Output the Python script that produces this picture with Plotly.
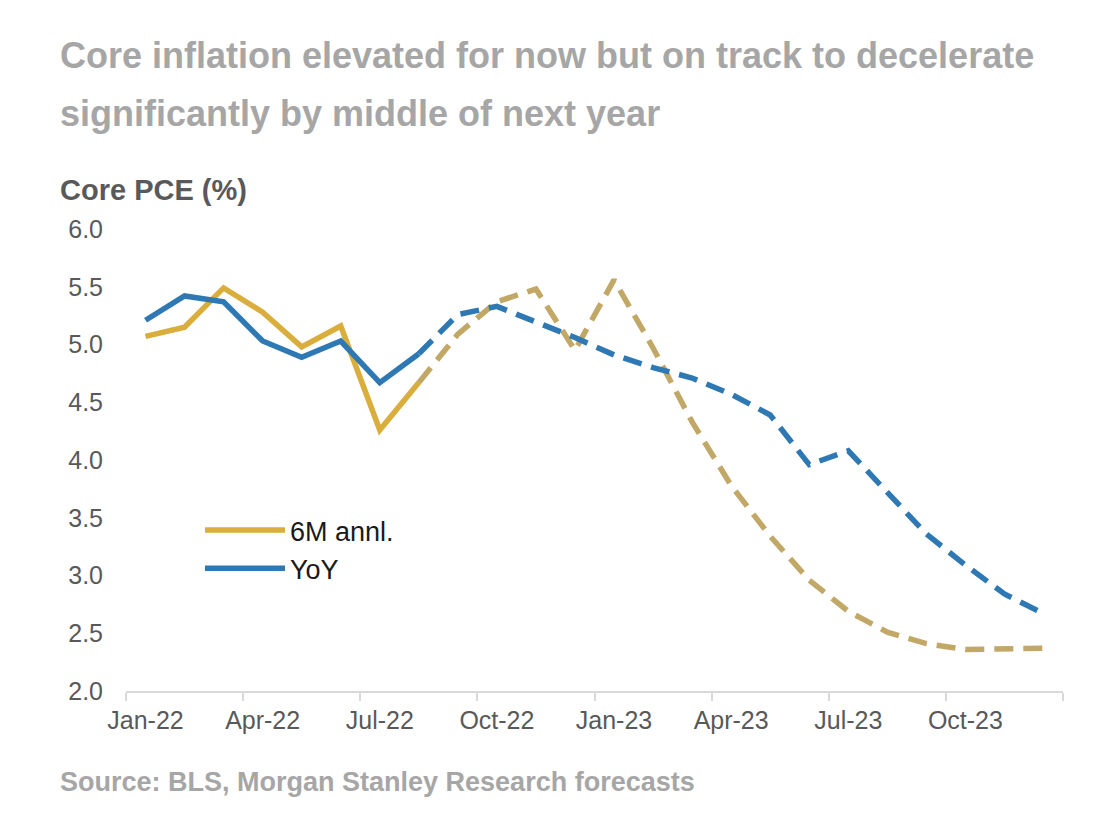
import plotly.graph_objects as go

# ---------------- data ----------------
months = ["Jan-22", "Feb-22", "Mar-22", "Apr-22", "May-22", "Jun-22", "Jul-22", "Aug-22",
          "Sep-22", "Oct-22", "Nov-22", "Dec-22", "Jan-23", "Feb-23", "Mar-23", "Apr-23",
          "May-23", "Jun-23", "Jul-23", "Aug-23", "Sep-23", "Oct-23", "Nov-23", "Dec-23"]

six_m_annl = [5.07, 5.15, 5.49, 5.28, 4.98, 5.16, 4.26, 4.67,
              5.09, 5.37, 5.48, 4.95, 5.56, 4.97, 4.33, 3.78,
              3.34, 2.96, 2.69, 2.51, 2.41, 2.36, 2.36, 2.37]

yoy = [5.21, 5.42, 5.37, 5.03, 4.89, 5.03, 4.67, 4.92,
       5.26, 5.33, 5.20, 5.06, 4.91, 4.80, 4.71, 4.57,
       4.39, 3.96, 4.08, 3.72, 3.36, 3.09, 2.84, 2.67]

last_actual = 7  # Aug-22 is the last actual point; forecasts after

y_ticks = [2.0, 2.5, 3.0, 3.5, 4.0, 4.5, 5.0, 5.5, 6.0]

title_line1 = "Core inflation elevated for now but on track to decelerate"
title_line2 = "significantly by middle of next year"
y_title = "Core PCE (%)"
source = "Source: BLS, Morgan Stanley Research forecasts"

# ---------------- styles ----------------
GOLD = "#D9AE3C"
GOLD_FC = "#C2A866"
BLUE = "#2E79B3"
FONT = "Liberation Sans, Arial, sans-serif"
LW = 5.5

# page has an 8px body margin, so the figure is drawn 8px smaller
W, H = 1099, 823
ML, MR, MT, MB = 118, 44, 221, 140
PW, PH = W - ML - MR, H - MT - MB
OFF = 8  # page offset


def px_x(x):
    return (x - OFF - ML) / PW


def px_y(y):
    return (H - MB - (y - OFF)) / PH


fig = go.Figure()

fig.add_trace(go.Scatter(x=months[:last_actual + 1], y=six_m_annl[:last_actual + 1],
                         mode="lines", name="6M annl.",
                         line=dict(color=GOLD, width=LW)))
fig.add_trace(go.Scatter(x=months[:last_actual + 1], y=yoy[:last_actual + 1],
                         mode="lines", name="YoY",
                         line=dict(color=BLUE, width=LW)))
fig.add_trace(go.Scatter(x=months[last_actual:], y=six_m_annl[last_actual:],
                         mode="lines", showlegend=False,
                         line=dict(color=GOLD_FC, width=LW, dash="19px,10px")))
fig.add_trace(go.Scatter(x=months[last_actual:], y=yoy[last_actual:],
                         mode="lines", showlegend=False,
                         line=dict(color=BLUE, width=LW, dash="19px,10px")))

fig.update_layout(
    width=W, height=H,
    margin=dict(l=ML, r=MR, t=MT, b=MB, pad=0),
    paper_bgcolor="white", plot_bgcolor="white",
    font=dict(family=FONT, color="#595959", size=26),
    legend=dict(x=px_x(200), y=px_y(506), xanchor="left", yanchor="top",
                bgcolor="rgba(0,0,0,0)", font=dict(size=27, color="#1a1a1a"),
                itemwidth=80, tracegroupgap=0),
    xaxis=dict(type="category", categoryorder="array", categoryarray=months,
               range=[-0.5, len(months) - 0.5],
               tickmode="linear", tick0=0, dtick=3, tickson="boundaries",
               ticks="outside", ticklen=8, tickwidth=2, tickcolor="#D9D9D9",
               showline=True, linecolor="#D9D9D9", linewidth=2,
               showgrid=False, zeroline=False, tickangle=0,
               ticklabelstandoff=6,
               tickfont=dict(size=25, color="#595959")),
    yaxis=dict(range=[2.0, 6.0], tickvals=y_ticks,
               ticktext=[f"{v:.1f}" for v in y_ticks],
               showgrid=False, zeroline=False, showline=False, ticks="",
               ticklabelstandoff=22,
               tickfont=dict(size=25, color="#595959")),
    annotations=[
        dict(text=f"<b>{title_line1}</b>", xref="paper", yref="paper",
             x=px_x(58), y=px_y(55), xanchor="left", yanchor="middle",
             showarrow=False, font=dict(size=36, color="#A6A6A6", family=FONT)),
        dict(text=f"<b>{title_line2}</b>", xref="paper", yref="paper",
             x=px_x(58), y=px_y(114), xanchor="left", yanchor="middle",
             showarrow=False, font=dict(size=36, color="#A6A6A6", family=FONT)),
        dict(text=f"<b>{y_title}</b>", xref="paper", yref="paper",
             x=px_x(58), y=px_y(190), xanchor="left", yanchor="middle",
             showarrow=False, font=dict(size=29, color="#595959", family=FONT)),
        dict(text=f"<b>{source}</b>", xref="paper", yref="paper",
             x=px_x(58), y=px_y(782), xanchor="left", yanchor="middle",
             showarrow=False, font=dict(size=27, color="#A6A6A6", family=FONT)),
    ],
)

fig.write_html("out.html")
